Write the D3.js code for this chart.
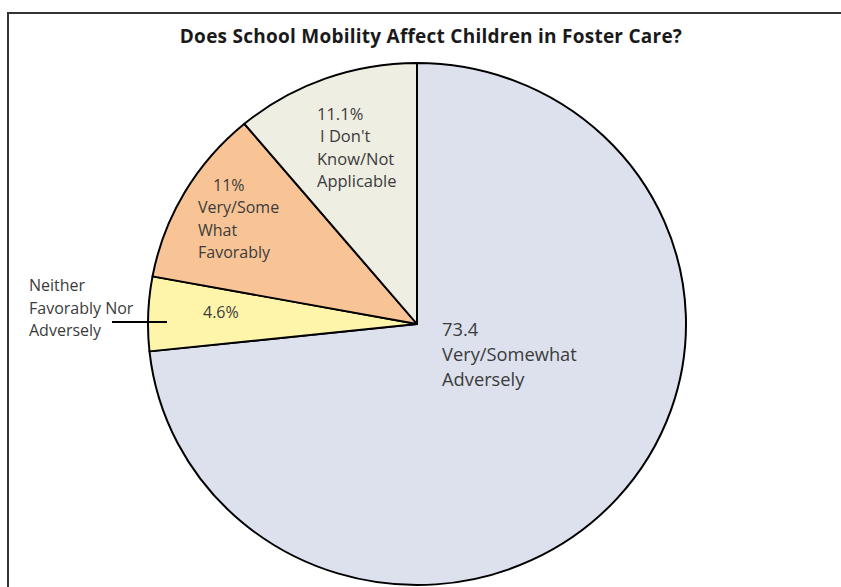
<!DOCTYPE html>
<html>
<head>
<meta charset="utf-8">
<script src="https://cdn.jsdelivr.net/npm/d3@7"></script>
<style>
  body { margin: 0; background: #fff; }
  svg { display: block; }
  text { font-family: "Open Sans", Lato, sans-serif; }
</style>
</head>
<body>
<div id="chart"></div>
<script>
const width = 841, height = 587;

// data (clockwise from 12 o'clock)
const categories = ["Very/Somewhat Adversely", "Neither Favorably Nor Adversely",
                    "Very/Some What Favorably", "I Don't Know/Not Applicable"];
const values = [73.4, 4.6, 11, 11.1];
const valueLabels = ["73.4", "4.6%", "11%", "11.1%"];
const title = "Does School Mobility Affect Children in Foster Care?";

// styling / placement, kept apart from the data
const colors = ["#dce1ed", "#fff5aa", "#f8c496", "#efeee3"];
const cx = 417, cy = 324, rx = 269, ry = 261;

var svg = d3.select("#chart")
    .append("svg")
    .attr("width", width)
    .attr("height", height);

// outer frame (cut off on the right and bottom like the source)
svg.append("path")
    .attr("d", "M8," + (height + 5) + "V13H" + (width + 5))
    .attr("fill", "none")
    .attr("stroke", "#333")
    .attr("stroke-width", 2);

svg.append("text")
    .attr("x", 431)
    .attr("y", 43)
    .attr("text-anchor", "middle")
    .attr("font-size", 19)
    .attr("font-weight", "bold")
    .attr("letter-spacing", 0.25)
    .attr("fill", "#1a1a1a")
    .text(title);

var pie = d3.pie().sort(null).value(d => d);
var arc = d3.arc().innerRadius(0).outerRadius(rx);
var arcs = pie(values);

var g = svg.append("g")
    .attr("transform", "translate(" + cx + "," + cy + ") scale(1," + (ry / rx) + ")");

g.selectAll("path.slice").data(arcs)
    .enter().append("path")
    .attr("class", "slice")
    .attr("d", arc)
    .attr("fill", (d, i) => colors[i])
    .attr("stroke", "#000")
    .attr("stroke-width", 2)
    .attr("stroke-linejoin", "round");

// label blocks: offset from pie centre, line step, font size
var labelLayout = [
    { dx: 25,   dy: 4,    step: 25,   size: 18.3,
      lines: [valueLabels[0], "Very/Somewhat", "Adversely"] },
    { dx: -214, dy: -12,  step: 22,   size: 16,
      lines: [valueLabels[1]] },
    { dx: -219, dy: -139, step: 22.4, size: 16,
      lines: [valueLabels[2], "Very/Some", "What", "Favorably"], indent: [15, 0, 0, 0] },
    { dx: -100, dy: -211, step: 22.3, size: 16.5,
      lines: [valueLabels[3], "I Don't", "Know/Not", "Applicable"], indent: [0, 3, 0, 0] }
];

labelLayout.forEach(function(l) {
    var t = svg.append("text")
        .attr("font-size", l.size)
        .attr("fill", "#3b3b3b")
        .attr("dominant-baseline", "central");
    l.lines.forEach(function(s, j) {
        t.append("tspan")
            .attr("x", cx + l.dx + (l.indent ? l.indent[j] : 0))
            .attr("y", cy + l.dy + j * l.step)
            .text(s);
    });
});

// outside label for the small slice with its leader line
var outside = svg.append("text")
    .attr("font-size", 16)
    .attr("fill", "#3b3b3b")
    .attr("dominant-baseline", "central");
["Neither", "Favorably Nor", "Adversely"].forEach(function(s, j) {
    outside.append("tspan").attr("x", 29).attr("y", 285 + j * 22.5).text(s);
});

svg.append("line")
    .attr("x1", 112).attr("y1", 322)
    .attr("x2", 167).attr("y2", 322)
    .attr("stroke", "#000")
    .attr("stroke-width", 2);
</script>
</body>
</html>
